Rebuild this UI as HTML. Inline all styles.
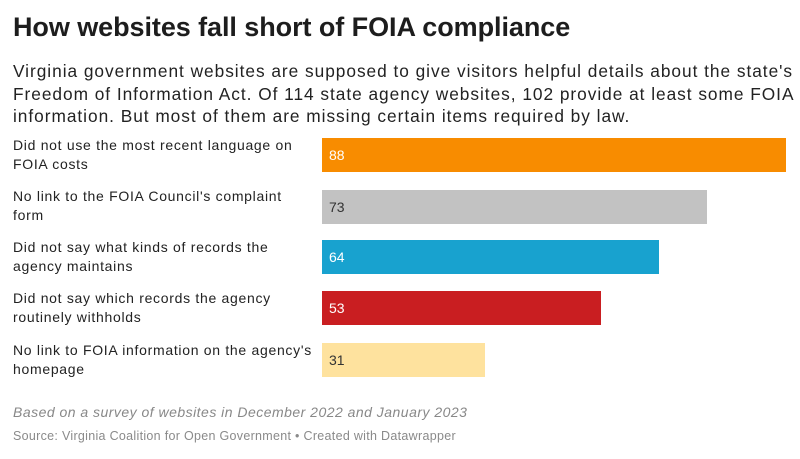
<!DOCTYPE html>
<html><head><meta charset="utf-8"><style>
body{margin:0;background:#fff;width:800px;height:459px;overflow:hidden;font-family:"Liberation Sans",Arial,sans-serif;color:#181818;position:relative}
div{white-space:nowrap}
.t{position:absolute;left:13px;top:12px;font-size:27px;font-weight:bold;letter-spacing:-0.07px;color:#1d1d1d}
.s{position:absolute;left:13px;top:60px;font-size:17.3px;line-height:22.5px;color:#222;letter-spacing:0.97px}
.l{position:absolute;left:13px;font-size:14px;line-height:19px;color:#222;letter-spacing:0.7px}
.b{position:absolute;left:322px;height:34px;font-size:14px;line-height:34px;padding-left:7px;box-sizing:border-box}
.n{position:absolute;left:13px;top:404px;font-size:14px;font-style:italic;color:#888;letter-spacing:0.48px}
.src{position:absolute;left:13px;top:429px;font-size:12.5px;color:#8a8a8a;letter-spacing:0.3px}
</style></head><body>
<div class="t">How websites fall short of FOIA compliance</div>
<div class="s">Virginia government websites are supposed to give visitors helpful details about the state's<br>Freedom of Information Act. Of 114 state agency websites, 102 provide at least some FOIA<br>information. But most of them are missing certain items required by law.</div>
<div class="l" style="top:136px">Did not use the most recent language on<br>FOIA costs</div>
<div class="b" style="top:138px;width:464px;background:#f88c00;color:#fff">88</div>
<div class="l" style="top:187px">No link to the FOIA Council's complaint<br>form</div>
<div class="b" style="top:190px;width:385px;background:#c2c2c2;color:#333">73</div>
<div class="l" style="top:238px">Did not say what kinds of records the<br>agency maintains</div>
<div class="b" style="top:240px;width:337px;background:#18a2cf;color:#fff">64</div>
<div class="l" style="top:289px">Did not say which records the agency<br>routinely withholds</div>
<div class="b" style="top:291px;width:279px;background:#c91e21;color:#fff">53</div>
<div class="l" style="top:341px">No link to FOIA information on the agency's<br>homepage</div>
<div class="b" style="top:343px;width:163px;background:#fee29e;color:#333">31</div>
<div class="n">Based on a survey of websites in December 2022 and January 2023</div>
<div class="src">Source: Virginia Coalition for Open Government • Created with Datawrapper</div>
</body></html>
